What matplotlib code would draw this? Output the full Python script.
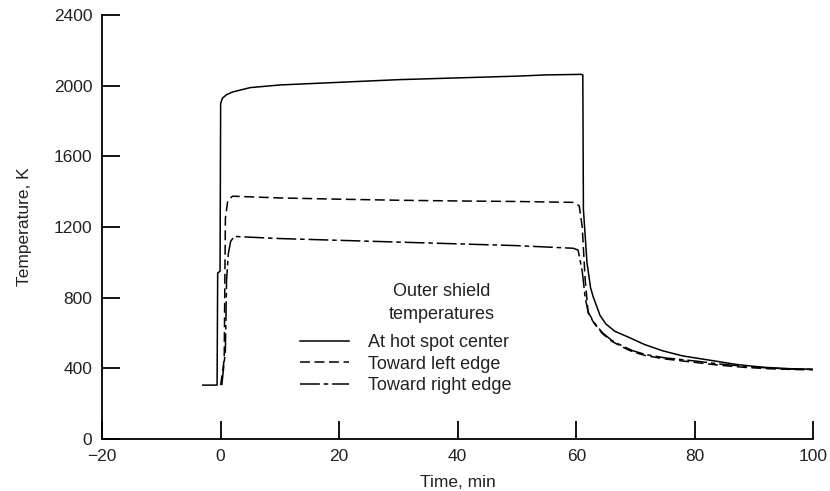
import matplotlib.pyplot as plt
from matplotlib.lines import Line2D

# time (min) and temperature (K)
t_center = [-3.0, -0.6, -0.5, -0.1, 0.0, 0.3, 1.0, 2.0, 5.0, 10.0, 20.0, 30.0, 40.0,
            50.0, 55.0, 60.8, 61.1, 61.2, 61.8, 62.4, 62.8, 63.3, 64.0, 65.0, 66.5,
            68.9, 71.5, 74.6, 78.0, 83.1, 87.0, 91.5, 96.0, 100.0]
T_center = [305, 305, 940, 950, 1900, 1930, 1950, 1965, 1990, 2005, 2020, 2035, 2045,
            2055, 2062, 2065, 2062, 1300, 1000, 858, 810, 764, 700, 651, 610,
            575, 535, 499, 470, 443, 422, 406, 398, 395]

t_left = [0.0, 0.6, 0.8, 1.2, 2.0, 10.0, 20.0, 30.0, 40.0, 50.0, 59.5, 60.5, 61.0,
          61.5, 62.0, 63.0, 64.4, 66.0, 67.8, 69.5, 71.7, 75.0, 80.2, 84.0, 88.6,
          93.0, 97.1, 100.0]
T_left = [305, 450, 1250, 1350, 1375, 1365, 1358, 1352, 1348, 1345, 1340, 1320, 1200,
          900, 715, 655, 597, 553, 520, 494, 472, 453, 433, 418, 405,
          397, 393, 392]

t_right = [0.2, 0.8, 1.0, 1.3, 1.7, 2.3, 10.0, 20.0, 30.0, 40.0, 50.0, 59.5, 60.3,
           61.0, 61.5, 62.0, 63.0, 64.4, 66.0, 67.8, 69.5, 71.7, 75.0, 80.2, 84.0,
           88.6, 93.0, 97.1, 100.0]
T_right = [305, 500, 900, 1050, 1120, 1147, 1135, 1125, 1115, 1105, 1095, 1080, 1070,
           950, 800, 718, 660, 602, 558, 526, 500, 478, 459, 441, 425,
           411, 401, 395, 394]

labels = ["At hot spot center", "Toward left edge", "Toward right edge"]
x_ticks = [-20, 0, 20, 40, 60, 80, 100]
y_ticks = [0, 400, 800, 1200, 1600, 2000, 2400]

plt.rcParams['font.family'] = ['Liberation Sans', 'DejaVu Sans']

dashed = (0, (6.5, 3))
dashdot = (0, (13, 2.5, 3, 2.5))

fig = plt.figure(figsize=(8.3, 4.91), dpi=100)
ax = fig.add_axes([0.123, 0.106, 0.857, 0.863])

ax.plot(t_center, T_center, color="black", lw=1.1, ls="-")
ax.plot(t_left, T_left, color="black", lw=1.1, ls=dashed)
ax.plot(t_right, T_right, color="black", lw=1.1, ls=dashdot)

ax.set_xlim(-20, 100)
ax.set_ylim(0, 2400)
ax.set_xticks(x_ticks)
ax.set_yticks(y_ticks)
ax.set_xticklabels(["\u221220"] + [str(v) for v in x_ticks[1:]])

for s in ["top", "right"]:
    ax.spines[s].set_visible(False)
for s in ["left", "bottom"]:
    ax.spines[s].set_linewidth(1.3)

ax.tick_params(direction="in", length=13, width=1.3, pad=7,
               labelsize=12.5, labelcolor="#222222")

ax.set_xlabel("Time, min", fontsize=12.5, color="#222222", labelpad=8)
ax.set_ylabel("Temperature, K", fontsize=12.5, color="#222222", labelpad=16)

ax.text(0.478, 0.321, "Outer shield\ntemperatures", transform=ax.transAxes,
        ha="center", va="center", fontsize=13, color="#222222", linespacing=1.45)

handles = [Line2D([], [], color="black", lw=1.1, ls="-"),
           Line2D([], [], color="black", lw=1.1, ls=dashed),
           Line2D([], [], color="black", lw=1.1, ls=dashdot)]
leg = ax.legend(handles, labels, loc="upper left", bbox_to_anchor=(0.278, 0.247),
                frameon=False, fontsize=13, handlelength=2.7, handletextpad=1.1,
                labelspacing=0.25, borderpad=0, borderaxespad=0)
for txt in leg.get_texts():
    txt.set_color("#222222")

fig.savefig("out.png", dpi=100)
